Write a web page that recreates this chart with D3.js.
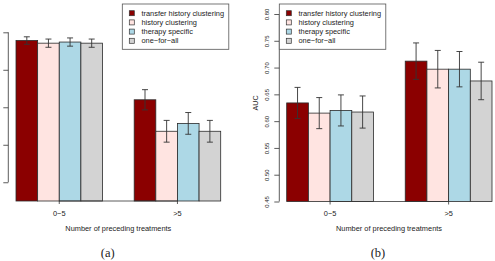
<!DOCTYPE html>
<html>
<head>
<meta charset="utf-8">
<script src="https://cdn.jsdelivr.net/npm/d3@7"></script>
<style>
  body { margin: 0; background: #fff; }
  svg { display: block; }
  text { font-family: "Liberation Sans", Arial, sans-serif; fill: #222; }
</style>
</head>
<body>
<svg id="chart" width="495" height="261"></svg>
<script>
(() => {

// categories and series
const groups = ['0\u22125', '>5'];
const methods = ['transfer history clustering', 'history clustering', 'therapy specific', 'one\u2212for\u2212all'];
const fills = ['#8b0000', '#ffe4e1', '#add8e6', '#d3d3d3'];

// panel (a) values, one entry per method (tick labels fall outside the crop)
const a_mean_low = [0.828, 0.821, 0.824, 0.821];
const a_mean_high = [0.670, 0.586, 0.607, 0.586];
const a_err_low = [0.010, 0.011, 0.011, 0.011];
const a_err_high = [0.027, 0.029, 0.029, 0.029];
const a_ticks = [0.45, 0.55, 0.65, 0.75, 0.85];
const a_base = 0.40;

// panel (b) values
const b_mean_low = [0.634, 0.615, 0.620, 0.617];
const b_mean_high = [0.712, 0.697, 0.697, 0.675];
const b_err_low = [0.029, 0.029, 0.029, 0.030];
const b_err_high = [0.034, 0.035, 0.033, 0.035];
const b_ticks = [0.45, 0.50, 0.55, 0.60, 0.65, 0.70, 0.75, 0.80];
const b_base = 0.45;

const svg = d3.select('#chart');

function draw_panel(p) {
    let g = svg.append('g');

    let y = d3.scaleLinear().domain(p.y_domain).range(p.y_range);
    let x = d3.scaleBand().domain(groups).range(p.x_range).paddingInner(0.268).paddingOuter(0);
    let xi = d3.scaleBand().domain(methods).range([0, x.bandwidth()]).padding(0);

    let rows = [];
    groups.forEach((grp, gi) => {
        methods.forEach((m, mi) => {
            rows.push({
                group: grp, method: m, color: fills[mi],
                mean: p.means[gi][mi], err: p.errs[gi][mi]
            });
        });
    });

    // bars
    g.append('g')
        .selectAll('rect')
        .data(rows)
        .enter()
        .append('rect')
        .attr('x', d => x(d.group) + xi(d.method))
        .attr('y', d => y(d.mean))
        .attr('width', xi.bandwidth())
        .attr('height', d => y(p.base) - y(d.mean))
        .attr('fill', d => d.color)
        .attr('stroke', '#2a2a2a')
        .attr('stroke-width', 0.8);

    // error bars
    let cap = 3;
    let eb = g.append('g').attr('stroke', '#333').attr('stroke-width', 0.9).attr('fill', 'none');
    rows.forEach(d => {
        let cx = x(d.group) + xi(d.method) + xi.bandwidth() / 2;
        let top = y(d.mean + d.err), bot = y(d.mean - d.err);
        eb.append('line').attr('x1', cx).attr('x2', cx).attr('y1', top).attr('y2', bot);
        eb.append('line').attr('x1', cx - cap).attr('x2', cx + cap).attr('y1', top).attr('y2', top);
        eb.append('line').attr('x1', cx - cap).attr('x2', cx + cap).attr('y1', bot).attr('y2', bot);
    });

    // y axis (R style: line from first to last tick)
    let ya = g.append('g').attr('transform', `translate(${p.axis_x},0)`);
    ya.call(d3.axisLeft(y).tickValues(p.ticks).tickSize(5).tickSizeOuter(0)
        .tickFormat(p.show_tick_labels ? d3.format('.2f') : () => ''));
    ya.select('.domain').remove();
    ya.selectAll('.tick line').attr('stroke', '#333').attr('stroke-width', 0.8);
    ya.append('line')
        .attr('y1', y(p.ticks[0])).attr('y2', y(p.ticks[p.ticks.length - 1]))
        .attr('stroke', '#333').attr('stroke-width', 0.8);
    if (p.show_tick_labels) {
        ya.selectAll('.tick text')
            .attr('x', 0).attr('dy', null).attr('y', 0)
            .attr('transform', 'translate(-10,0) rotate(-90)')
            .style('text-anchor', 'middle')
            .style('font-size', '6px')
            .style('font-family', '"Liberation Sans", Arial, sans-serif')
            .attr('fill', '#333');
    } else {
        ya.selectAll('.tick text').remove();
    }

    // x axis at group centres
    let centers = groups.map(gr => x(gr) + x.bandwidth() / 2);
    let xa = g.append('g').attr('stroke', '#333').attr('stroke-width', 0.8);
    xa.append('line').attr('x1', centers[0]).attr('x2', centers[1])
        .attr('y1', y(p.base)).attr('y2', y(p.base));
    centers.forEach(c => {
        xa.append('line').attr('x1', c).attr('x2', c).attr('y1', y(p.base)).attr('y2', y(p.base) + 3);
    });
    g.selectAll('.xlab')
        .data(groups)
        .enter()
        .append('text')
        .attr('x', d => x(d) + x.bandwidth() / 2)
        .attr('y', 215.5)
        .style('text-anchor', 'middle')
        .style('font-size', '7.4px')
        .text(d => d);

    g.append('text')
        .attr('x', p.title_x).attr('y', 231)
        .style('text-anchor', 'middle')
        .style('font-size', '7.4px')
        .text('Number of preceding treatments');

    if (p.y_title) {
        g.append('text')
            .attr('transform', `translate(${p.axis_x - 21.5},103) rotate(-90)`)
            .style('text-anchor', 'middle')
            .style('font-size', '7.2px')
            .text(p.y_title);
    }

    g.append('text')
        .attr('x', p.caption_x).attr('y', 257)
        .style('text-anchor', 'middle')
        .style('font-family', '"Liberation Serif", "Times New Roman", serif')
        .style('font-size', '12.5px')
        .text(p.caption);

    // legend
    let lg = g.append('g').attr('transform', `translate(${p.legend_x},4)`);
    lg.append('rect')
        .attr('width', 106.5).attr('height', 45.3)
        .attr('fill', '#fff').attr('stroke', '#555').attr('stroke-width', 0.8);
    methods.forEach((m, i) => {
        let cy = 9.2 + i * 9.2;
        lg.append('rect')
            .attr('x', 7).attr('y', cy - 2.5)
            .attr('width', 5).attr('height', 5)
            .attr('fill', fills[i]).attr('stroke', '#333').attr('stroke-width', 0.7);
        lg.append('text')
            .attr('x', 19.2).attr('y', cy + 2.6)
            .style('font-size', '7.4px')
            .text(m);
    });
}

draw_panel({
    means: [a_mean_low, a_mean_high], errs: [a_err_low, a_err_high],
    ticks: a_ticks, base: a_base, show_tick_labels: false,
    y_domain: [0.40, 0.85], y_range: [201, 32.3],
    x_range: [16, 220.7], axis_x: 8.3,
    title_x: 118.3, caption_x: 107.7, caption: '(a)',
    legend_x: 122.3, y_title: null
});

draw_panel({
    means: [b_mean_low, b_mean_high], errs: [b_err_low, b_err_high],
    ticks: b_ticks, base: b_base, show_tick_labels: true,
    y_domain: [0.45, 0.80], y_range: [201.5, 14],
    x_range: [286.7, 492], axis_x: 279.3,
    title_x: 389, caption_x: 378, caption: '(b)',
    legend_x: 279.3, y_title: 'AUC'
});

})();
</script>
</body>
</html>
